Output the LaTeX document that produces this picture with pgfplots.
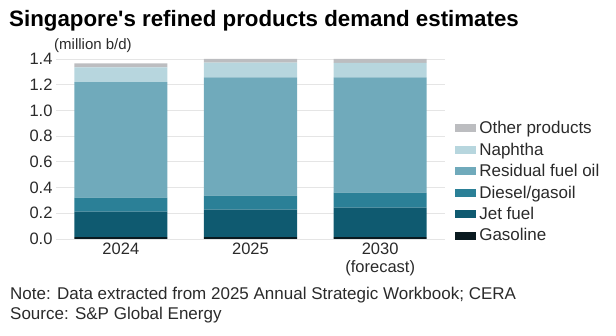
\documentclass[border=0pt]{standalone}
\usepackage{pgfplots}
\pgfplotsset{compat=1.18}
\usepackage{fontspec}
\setmainfont{Liberation Sans}
\definecolor{cOther}{HTML}{BCBDC0}
\definecolor{cNaph}{HTML}{B7D6DE}
\definecolor{cResid}{HTML}{70AABB}
\definecolor{cDiesel}{HTML}{2B8097}
\definecolor{cJet}{HTML}{0F5A70}
\definecolor{cGas}{HTML}{0A1A20}
\definecolor{txt}{HTML}{2A2A2A}
\begin{document}
\begin{tikzpicture}
\useasboundingbox (0,0) rectangle (616pt,-336pt);
\node[anchor=base west,inner sep=0pt,font=\fontsize{22.3}{24}\selectfont\bfseries] at (9pt,-27pt) {Singapore\textquotesingle s refined products demand estimates};
\node[anchor=base west,inner sep=0pt,font=\fontsize{15}{17}\selectfont,text=txt] at (54pt,-50pt) {(million b/d)};
\node[anchor=base west,inner sep=0pt,font=\fontsize{17}{19}\selectfont,text=txt] at (10pt,-300pt) {Note: Data extracted from 2025 Annual Strategic Workbook; CERA};
\node[anchor=base west,inner sep=0pt,font=\fontsize{17}{19}\selectfont,text=txt] at (10pt,-320pt) {Source: S\&P Global Energy};
\begin{axis}[
  at={(56pt,-239pt)}, anchor=south west,
  scale only axis, width=389pt, height=180pt,
  ybar stacked, bar width=0.718,
  xmin=-0.5, xmax=2.5, ymin=0, ymax=1.4,
  xtick={0,1,2}, xticklabels={2024,2025,2030\\[2pt](forecast)},
  xticklabel style={align=center, font=\fontsize{16.5}{16.5}\selectfont, text=txt},
  ytick={0,0.2,...,1.4},
  yticklabel style={font=\fontsize{16.5}{17}\selectfont, text=txt},
  /pgf/number format/assume math mode=true,
  yticklabel={\pgfmathprintnumber[fixed,fixed zerofill,precision=1]{\tick}},
  major tick length=0pt,
  axis line style={draw=none},
  ymajorgrids, grid style={color=black!10, line width=0.8pt},
  reverse legend,
  legend style={at={(1.026,0.665)}, anchor=north west, draw=none, fill=none,
    font=\fontsize{17}{18}\selectfont, text=txt, row sep=3.6pt,
    legend cell align=left, inner sep=0pt,
    nodes={inner xsep=3pt, inner ysep=2pt}},
  legend image code/.code={\fill[#1] (0pt,-4pt) rectangle (21pt,4pt);},
]
\addplot[fill=cGas, draw=none] coordinates {(0,0.015) (1,0.015) (2,0.015)};
\addplot[fill=cJet, draw=none] coordinates {(0,0.198) (1,0.214) (2,0.229)};
\addplot[fill=cDiesel, draw=none] coordinates {(0,0.109) (1,0.109) (2,0.117)};
\addplot[fill=cResid, draw=none] coordinates {(0,0.899) (1,0.919) (2,0.896)};
\addplot[fill=cNaph, draw=none] coordinates {(0,0.114) (1,0.114) (2,0.112)};
\addplot[fill=cOther, draw=none] coordinates {(0,0.031) (1,0.029) (2,0.031)};
\legend{Gasoline,Jet fuel,Diesel/gasoil,Residual fuel oil,Naphtha,Other products}
\end{axis}
\end{tikzpicture}
\end{document}
